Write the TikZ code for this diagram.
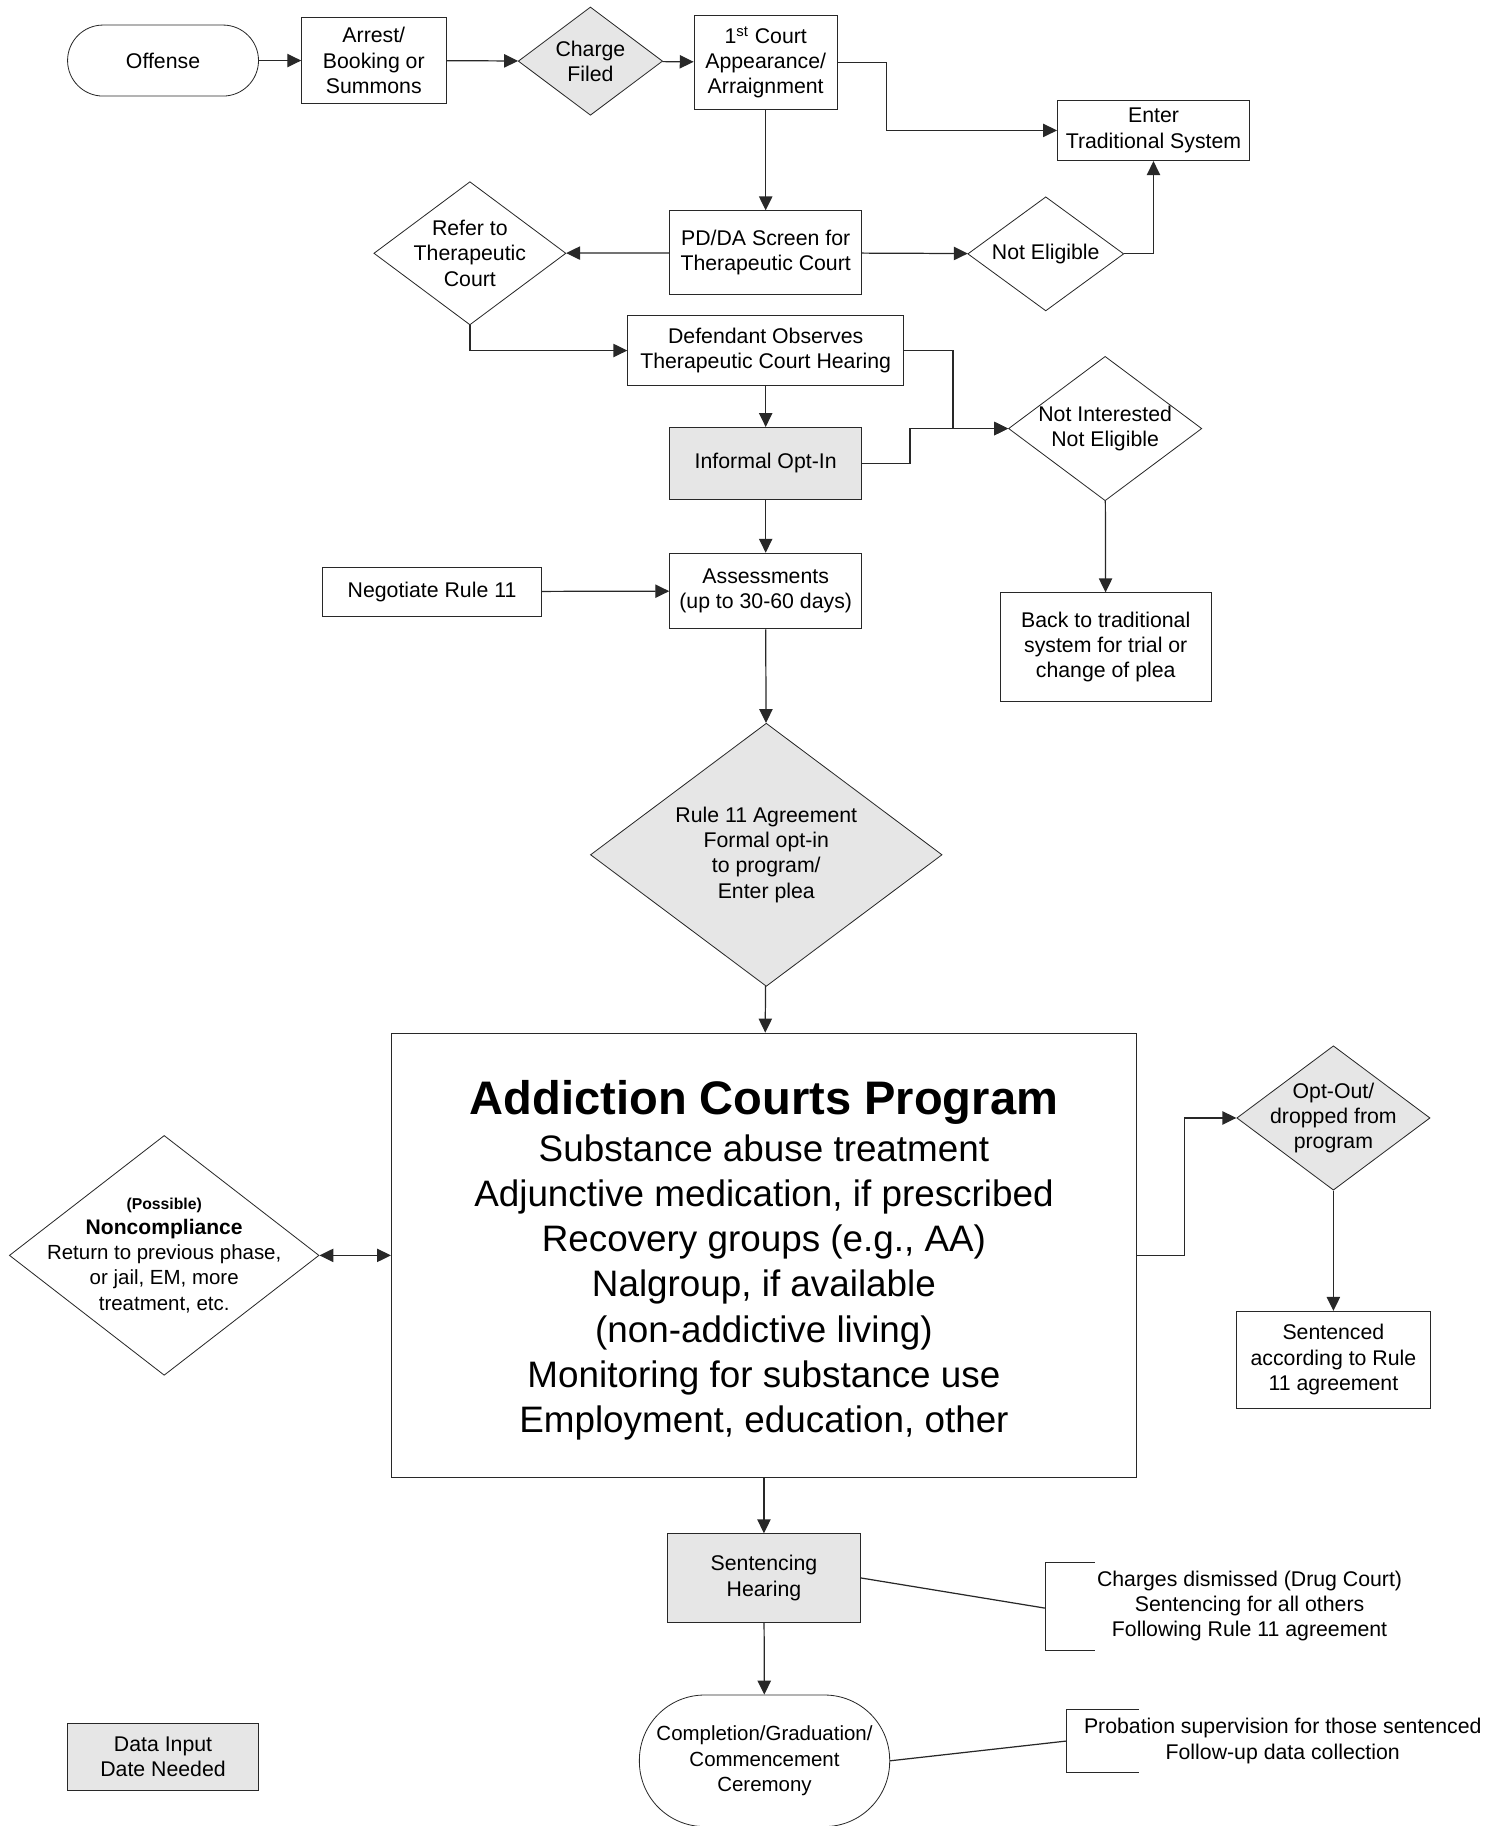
\documentclass[tikz,border=0pt]{standalone}
\usepackage{fontspec}
\setmainfont{Liberation Sans}
\usetikzlibrary{shapes,arrows.meta,positioning}
\usepackage{xcolor}
\definecolor{datagray}{RGB}{230,230,230}
\definecolor{linegray}{RGB}{40,40,40}
\newcommand{\flowfont}{\fontsize{10.4}{12.3}\selectfont}

\begin{document}
\begin{tikzpicture}[
    x=0.02cm, y=-0.02cm,
    >={Triangle[length=6.8pt,width=6.5pt]},
    box/.style={rectangle, draw=linegray, fill=white, inner sep=2pt, align=center, font=\flowfont},
    databox/.style={box, fill=datagray},
    decision/.style={diamond, draw=linegray, fill=white, inner sep=-6pt, align=center, font=\flowfont},
    datadecision/.style={decision, fill=datagray},
    terminal/.style={rectangle, rounded corners=0.61cm, draw=linegray, align=center, font=\flowfont},
    arrow/.style={->, line width=0.6pt, color=linegray},
    link/.style={line width=0.6pt, color=linegray}
]
\useasboundingbox (0,0) rectangle (1287,1568);

% Intake (top row)
\node[terminal, minimum width=3.28cm, minimum height=1.22cm] (offense) at (140,52) {Offense};
\node[box, minimum width=2.48cm, minimum height=1.48cm] (arrest) at (321,52) {Arrest/\\Booking or\\Summons};
\node[datadecision, aspect=1.33, minimum width=2.48cm, minimum height=1.86cm] (charge) at (507,52.5) {Charge\\Filed};
\node[box, minimum width=2.46cm, minimum height=1.62cm] (court) at (657.5,53.5) {1\textsuperscript{st} Court\\Appearance/\\Arraignment};
\node[box, minimum width=3.3cm, minimum height=1.04cm] (enter) at (990.5,112) {Enter\\Traditional System};

\draw[arrow] (offense) -- (arrest);
\draw[arrow] (arrest) -- (charge);
\draw[arrow] (charge) -- (court);
\draw[arrow] (court.east) -- ++(42,0) |- (enter.west);

% Screening
\node[box, minimum width=3.3cm, minimum height=1.44cm] (screen) at (657.5,217) {PD/DA Screen for\\Therapeutic Court};
\node[decision, aspect=1.37, minimum width=2.68cm, minimum height=1.96cm] (notelig) at (898,218) {Not Eligible};
\node[decision, aspect=1.34, minimum width=3.3cm, minimum height=2.46cm] (refer) at (403.5,217.5) {Refer to\\Therapeutic\\Court};

\draw[arrow] (court) -- (screen);
\draw[arrow] (screen) -- (refer);
\draw[arrow] (screen) -- (notelig);
\draw[arrow] (notelig.east) -| (enter.south);

% Observation and opt-in
\node[box, minimum width=4.74cm, minimum height=1.2cm] (observe) at (657.5,301) {Defendant Observes\\Therapeutic Court Hearing};
\node[databox, minimum width=3.3cm, minimum height=1.24cm] (optin) at (657.5,398) {Informal Opt-In};
\node[decision, aspect=1.34, minimum width=3.32cm, minimum height=2.48cm] (notint) at (949,368) {Not Interested\\Not Eligible};
\node[box, minimum width=3.62cm, minimum height=1.86cm] (back) at (949.5,555.5) {Back to traditional\\system for trial or\\change of plea};

\draw[arrow] (refer.south) |- (observe.west);
\draw[arrow] (observe) -- (optin);
\draw[arrow] (observe.east) -- ++(42,0) |- (notint.west);
\draw[arrow] (optin.east) -- ++(41,0) |- (notint.west);
\draw[arrow] (notint) -- (back);

% Assessment and agreement
\node[box, minimum width=3.76cm, minimum height=0.84cm] (negotiate) at (371,508) {Negotiate Rule 11};
\node[box, minimum width=3.3cm, minimum height=1.3cm] (assess) at (657.5,507.5) {Assessments\\(up to 30-60 days)};
\node[datadecision, aspect=1.34, minimum width=6.04cm, minimum height=4.52cm] (agree) at (658,734) {Rule 11 Agreement\\Formal opt-in\\to program/\\Enter plea};

\draw[arrow] (optin) -- (assess);
\draw[arrow] (negotiate) -- (assess);
\draw[arrow] (assess) -- (agree);

% Program
\node[box, minimum width=12.8cm, minimum height=7.64cm, font=\fontsize{18}{22}\selectfont] (program) at (656,1078)
    {{\fontsize{23}{22}\selectfont\bfseries\rule{0pt}{21.3pt}Addiction Courts Program}\\[1.1pt]
     Substance abuse treatment\\
     Adjunctive medication, if prescribed\\
     Recovery groups (e.g., AA)\\
     Nalgroup, if available\\
     (non-addictive living)\\
     Monitoring for substance use\\
     Employment, education, other};
\node[decision, aspect=1.29, inner sep=-15pt, minimum width=5.32cm, minimum height=4.12cm, font=\fontsize{10}{12.3}\selectfont] (noncomp) at (141,1078)
    {{\fontsize{7.7}{12.3}\selectfont\bfseries (Possible)}\\
     {\fontsize{10.3}{12.3}\selectfont\bfseries Noncompliance}\\
     Return to previous phase,\\or jail, EM, more\\treatment, etc.};
\node[datadecision, aspect=1.34, minimum width=3.32cm, minimum height=2.48cm] (optout) at (1145,960) {Opt-Out/\\dropped from\\program};
\node[box, minimum width=3.32cm, minimum height=1.66cm] (sentenced) at (1145,1167.5) {Sentenced\\according to Rule\\11 agreement};

\draw[arrow] (agree) -- (program);
\draw[<->, line width=0.6pt, color=linegray] (noncomp) -- (program);
\draw[arrow] (program.east) -- ++(41,0) |- (optout.west);
\draw[arrow] (optout) -- (sentenced);

% Exit
\node[databox, minimum width=3.32cm, minimum height=1.52cm] (hearing) at (656,1355) {Sentencing\\Hearing};
\node[terminal, rounded corners=1.12cm, minimum width=4.3cm, minimum height=2.26cm, font=\fontsize{10}{12.3}\selectfont] (ceremony) at (656.5,1512) {Completion/Graduation/\\Commencement\\Ceremony};

\draw[arrow] (program) -- (hearing);
\draw[arrow] (hearing) -- (ceremony);

% Annotations
\node[align=center, font=\flowfont] (dismissed) at (1073,1379) {Charges dismissed (Drug Court)\\Sentencing for all others\\Following Rule 11 agreement};
\coordinate (dismissbr) at (898,1381);
\draw[link] (940,1342) -- (898,1342) -- (898,1417) -- (940,1417);
\draw[link] (hearing.east) -- (dismissbr);

\node[align=center, font=\flowfont] (probation) at (1101.5,1495) {Probation supervision for those sentenced\\Follow-up data collection};
\coordinate (probationbr) at (916,1495);
\draw[link] (978,1468) -- (916,1468) -- (916,1522) -- (978,1522);
\draw[link] (ceremony.east) -- (probationbr);

% Legend
\node[databox, minimum width=3.28cm, minimum height=1.14cm] (datain) at (140,1508.5) {Data Input\\Date Needed};

\end{tikzpicture}
\end{document}
